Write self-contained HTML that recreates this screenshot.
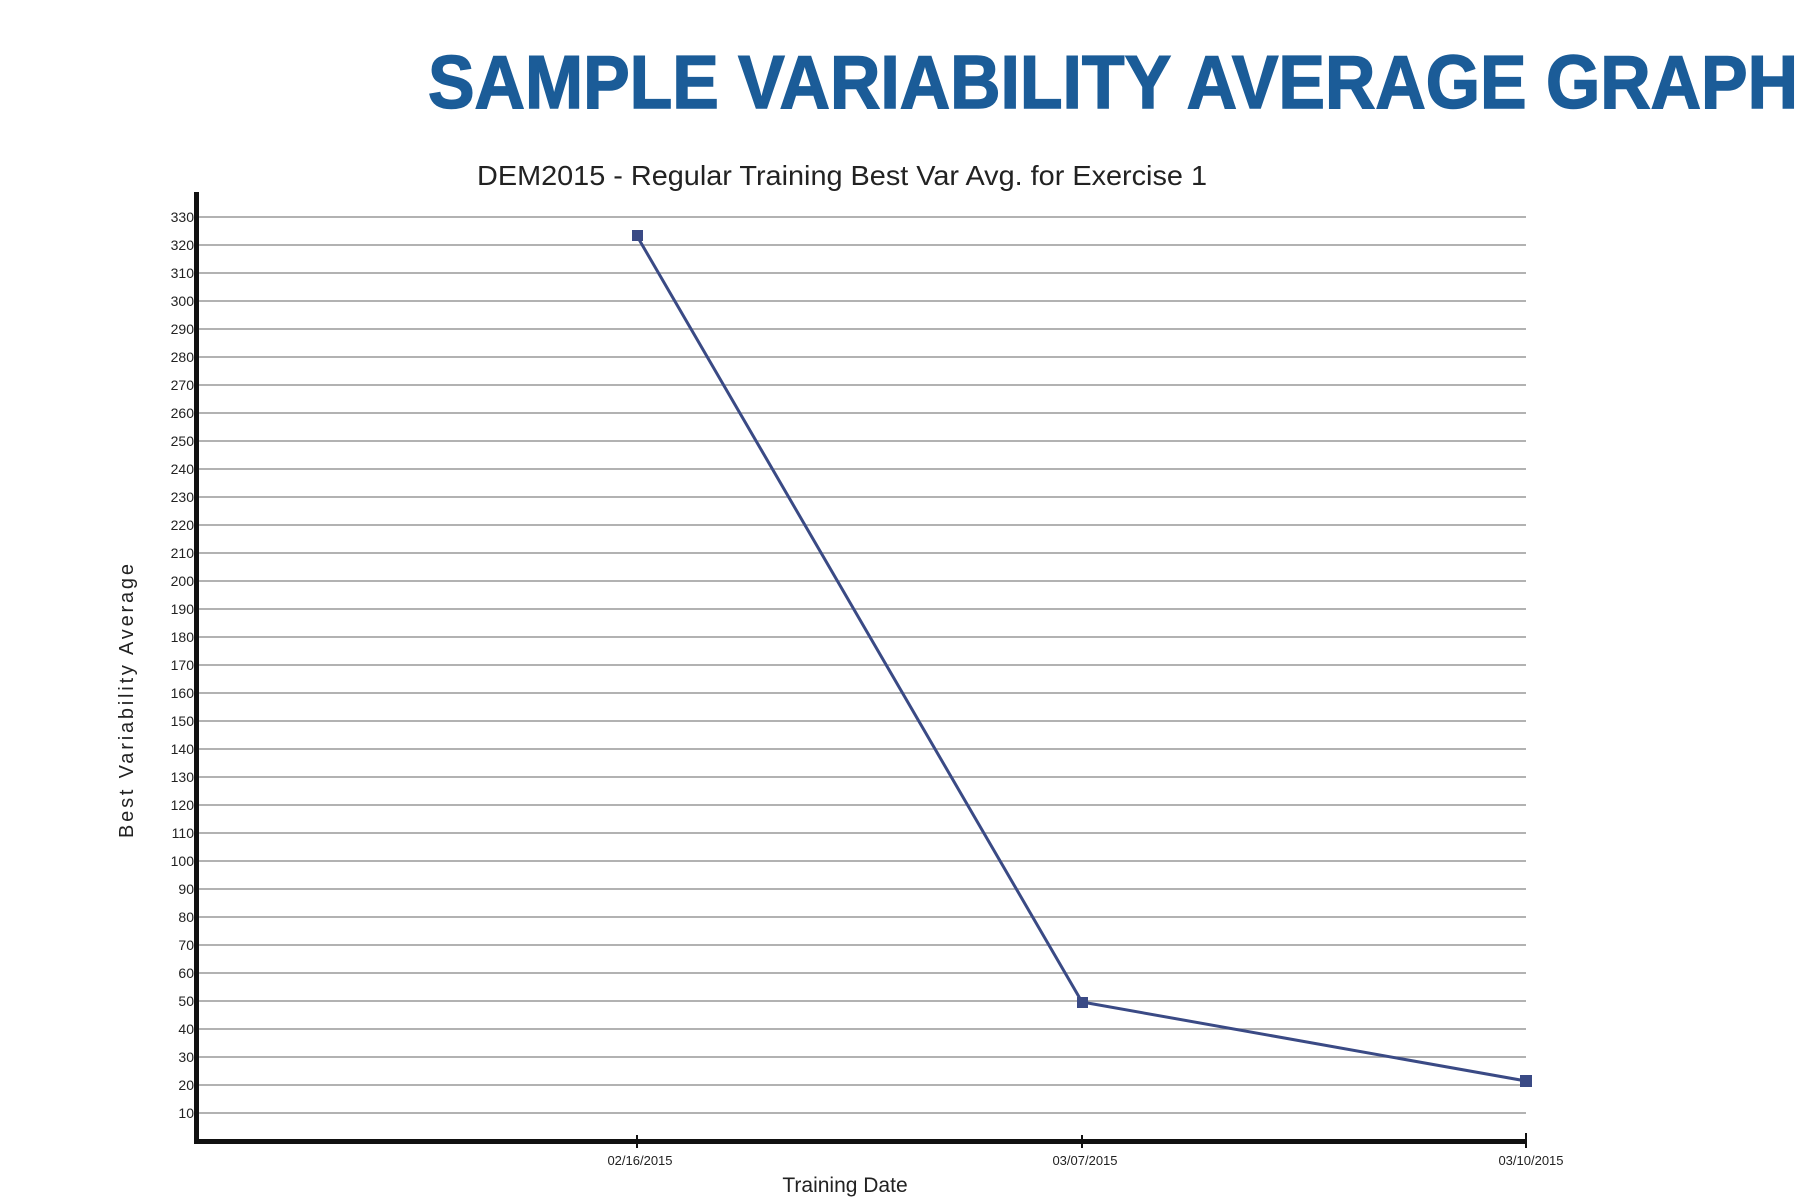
<!DOCTYPE html>
<html><head><meta charset="utf-8"><style>html,body{margin:0;padding:0;background:#fff;}</style></head>
<body>
<svg width="1810" height="1198" viewBox="0 0 1810 1198" xmlns="http://www.w3.org/2000/svg">
<text x="428" y="108" font-family="Liberation Sans, sans-serif" font-weight="bold" font-size="75" fill="#1b5c98" stroke="#1b5c98" stroke-width="1.5" textLength="1370" lengthAdjust="spacingAndGlyphs">SAMPLE VARIABILITY AVERAGE GRAPH</text>
<text x="477" y="185" font-family="Liberation Sans, sans-serif" font-size="28" fill="#222" textLength="730" lengthAdjust="spacingAndGlyphs">DEM2015 - Regular Training Best Var Avg. for Exercise 1</text>
<g stroke="#999" stroke-width="1.5">
<line x1="199" y1="217" x2="1526" y2="217"/><line x1="199" y1="245" x2="1526" y2="245"/><line x1="199" y1="273" x2="1526" y2="273"/><line x1="199" y1="301" x2="1526" y2="301"/><line x1="199" y1="329" x2="1526" y2="329"/><line x1="199" y1="357" x2="1526" y2="357"/><line x1="199" y1="385" x2="1526" y2="385"/><line x1="199" y1="413" x2="1526" y2="413"/><line x1="199" y1="441" x2="1526" y2="441"/><line x1="199" y1="469" x2="1526" y2="469"/><line x1="199" y1="497" x2="1526" y2="497"/><line x1="199" y1="525" x2="1526" y2="525"/><line x1="199" y1="553" x2="1526" y2="553"/><line x1="199" y1="581" x2="1526" y2="581"/><line x1="199" y1="609" x2="1526" y2="609"/><line x1="199" y1="637" x2="1526" y2="637"/><line x1="199" y1="665" x2="1526" y2="665"/><line x1="199" y1="693" x2="1526" y2="693"/><line x1="199" y1="721" x2="1526" y2="721"/><line x1="199" y1="749" x2="1526" y2="749"/><line x1="199" y1="777" x2="1526" y2="777"/><line x1="199" y1="805" x2="1526" y2="805"/><line x1="199" y1="833" x2="1526" y2="833"/><line x1="199" y1="861" x2="1526" y2="861"/><line x1="199" y1="889" x2="1526" y2="889"/><line x1="199" y1="917" x2="1526" y2="917"/><line x1="199" y1="945" x2="1526" y2="945"/><line x1="199" y1="973" x2="1526" y2="973"/><line x1="199" y1="1001" x2="1526" y2="1001"/><line x1="199" y1="1029" x2="1526" y2="1029"/><line x1="199" y1="1057" x2="1526" y2="1057"/><line x1="199" y1="1085" x2="1526" y2="1085"/><line x1="199" y1="1113" x2="1526" y2="1113"/>
</g>
<g font-family="Liberation Sans, sans-serif" font-size="14" fill="#222" text-anchor="end">
<text x="194" y="222">330</text><text x="194" y="250">320</text><text x="194" y="278">310</text><text x="194" y="306">300</text><text x="194" y="334">290</text><text x="194" y="362">280</text><text x="194" y="390">270</text><text x="194" y="418">260</text><text x="194" y="446">250</text><text x="194" y="474">240</text><text x="194" y="502">230</text><text x="194" y="530">220</text><text x="194" y="558">210</text><text x="194" y="586">200</text><text x="194" y="614">190</text><text x="194" y="642">180</text><text x="194" y="670">170</text><text x="194" y="698">160</text><text x="194" y="726">150</text><text x="194" y="754">140</text><text x="194" y="782">130</text><text x="194" y="810">120</text><text x="194" y="838">110</text><text x="194" y="866">100</text><text x="194" y="894">90</text><text x="194" y="922">80</text><text x="194" y="950">70</text><text x="194" y="978">60</text><text x="194" y="1006">50</text><text x="194" y="1034">40</text><text x="194" y="1062">30</text><text x="194" y="1090">20</text><text x="194" y="1118">10</text>
</g>
<line x1="196.5" y1="192" x2="196.5" y2="1144" stroke="#111" stroke-width="5"/>
<line x1="194" y1="1141.5" x2="1526" y2="1141.5" stroke="#111" stroke-width="5"/>
<g stroke="#111" stroke-width="2"><line x1="637" y1="1135" x2="637" y2="1148"/><line x1="1082" y1="1135" x2="1082" y2="1148"/><line x1="1526" y1="1133" x2="1526" y2="1148"/></g>
<g font-family="Liberation Sans, sans-serif" font-size="13" fill="#222" text-anchor="middle">
<text x="640" y="1165">02/16/2015</text><text x="1085" y="1165">03/07/2015</text><text x="1531" y="1165">03/10/2015</text>
</g>
<text x="845" y="1192" font-family="Liberation Sans, sans-serif" font-size="21" fill="#222" text-anchor="middle">Training Date</text>
<text transform="translate(133,701) rotate(-90)" font-family="Liberation Sans, sans-serif" font-size="20" fill="#222" text-anchor="middle" textLength="274" lengthAdjust="spacing">Best Variability Average</text>
<polyline points="637,236 1082,1002 1526,1081" fill="none" stroke="#3a4a85" stroke-width="3"/>
<g fill="#3a4a85"><rect x="632" y="230" width="11" height="11"/><rect x="1077" y="997" width="11" height="11"/><rect x="1520" y="1075" width="12" height="12"/></g>
</svg>
</body></html>
